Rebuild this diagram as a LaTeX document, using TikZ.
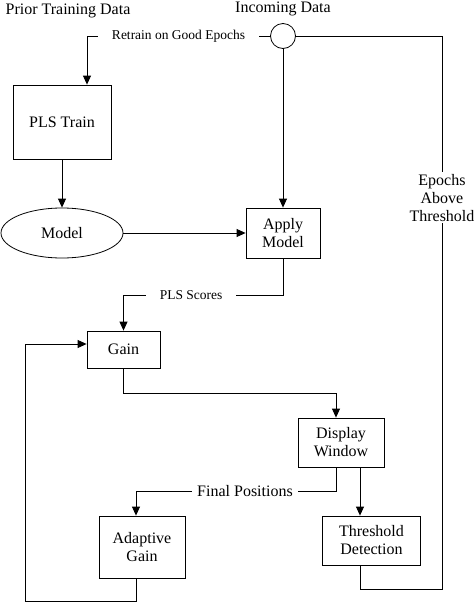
\documentclass[tikz,border=0pt]{standalone}
\usepackage{fontspec}
\setmainfont{Liberation Serif}
\usetikzlibrary{arrows.meta,shapes.geometric}

\begin{document}
\begin{tikzpicture}[x=1pt,y=-1pt,
line width=0.8pt,
>={Triangle[length=9pt,width=8pt]},
font=\fontsize{16}{18}\selectfont,
block/.style={draw,rectangle,align=center,inner sep=0pt},
lbl/.style={fill=white,inner xsep=14pt,inner ysep=1pt,font=\fontsize{13.5}{16}\selectfont}]
\useasboundingbox (0,0) rectangle (474,603);
\node (prior) at (68,10.5) {Prior Training Data};
\node (incoming) at (283,9) {Incoming Data};
\node[draw,circle,minimum size=25pt,inner sep=0pt] (circ) at (283,36) {};
\node[block,minimum width=98pt,minimum height=74pt] (train) at (62,122) {PLS Train};
\node[draw,ellipse,minimum width=122pt,minimum height=50pt,inner sep=0pt] (model) at (62,233) {Model};
\node[block,minimum width=74pt,minimum height=50pt] (apply) at (283,233) {Apply\\Model};
\node[block,minimum width=73pt,minimum height=37pt] (gain) at (123.5,349.5) {Gain};
\node[block,minimum width=86pt,minimum height=49pt] (display) at (341,442.5) {Display\\Window};
\node[block,minimum width=86pt,minimum height=62pt] (adaptive) at (142,547) {Adaptive\\Gain};
\node[block,minimum width=98pt,minimum height=49pt] (thresh) at (371.5,540.5) {Threshold\\Detection};
\draw[->] (circ.west) -| node[lbl,pos=0.25] (retrain) {Retrain on Good Epochs} ([xshift=25pt]train.north);
\draw[->] (circ.south) -- (apply.north);
\draw[->] (train.south) -- (model.north);
\draw[->] (model.east) -- (apply.west);
\draw[->] (apply.south) -- ++(0,37) -| node[lbl,pos=0.288] (scores) {PLS Scores} (gain.north);
\draw[->] (gain.south) -- ++(0,25) -| ([xshift=-5pt]display.north);
\draw[->] ([xshift=-5pt]display.south) -- ++(0,24) -| node[lbl,pos=0.2275,inner xsep=5pt,font=\fontsize{16}{18}\selectfont] (final) {Final Positions} ([xshift=-6pt]adaptive.north);
\draw[->] ([xshift=19pt]display.south) -- ([xshift=-11.5pt]thresh.north);
\draw ([xshift=-11.5pt]thresh.south) -- ++(0,24) -- ++(82,0) |- node[pos=0.354,fill=white,align=center,inner xsep=0pt,inner ysep=2pt] (epochs) {Epochs\\Above\\Threshold} (circ.east);
\draw[->] ([xshift=-6pt]adaptive.south) -- ++(0,23) -- ++(-111,0) |- ([yshift=5.5pt]gain.west);
\end{tikzpicture}
\end{document}
